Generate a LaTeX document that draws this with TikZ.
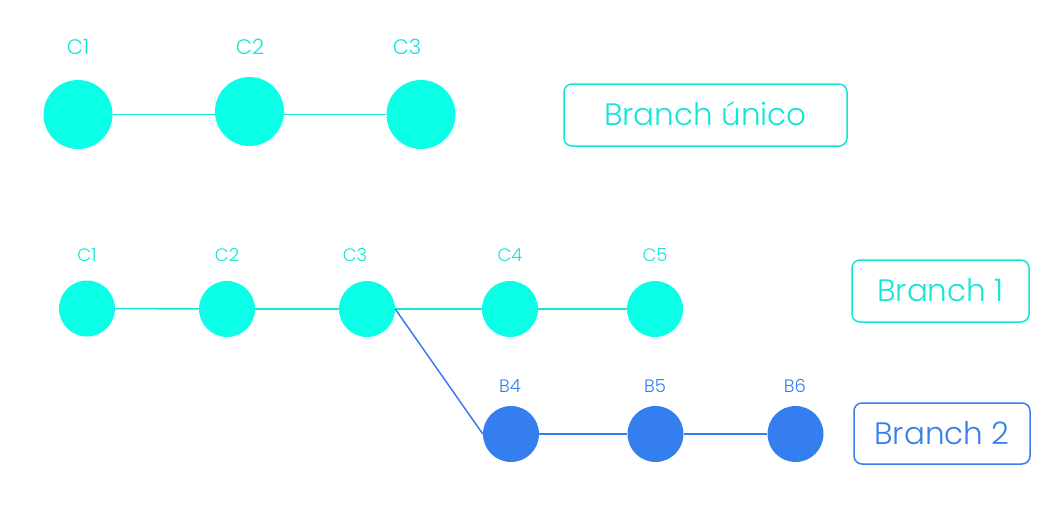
\documentclass[tikz,border=0pt]{standalone}
\usepackage{fontspec}
\setmainfont{Poppins Light}
\definecolor{cy}{HTML}{0AFFE6}
\definecolor{cyline}{HTML}{12E6D6}
\definecolor{bl}{HTML}{347EF0}
\begin{document}
\begin{tikzpicture}[x=1pt,y=-1pt,
  bigdot/.style={circle,fill=cy,inner sep=0,minimum size=69pt},
  middot/.style={circle,fill=cy,inner sep=0,minimum size=56pt},
  bludot/.style={circle,fill=bl,inner sep=0,minimum size=56pt},
  biglbl/.style={text=cyline,font=\fontsize{21}{24}\selectfont,inner sep=0},
  smlbl/.style={text=cyline,font=\fontsize{18}{21}\selectfont,inner sep=0},
  bllbl/.style={text=bl,font=\fontsize{18}{21}\selectfont,inner sep=0},
  cyedge/.style={draw=cyline,line width=1.8pt},
  bledge/.style={draw=bl,line width=1.8pt},
  tagbox/.style={draw,rounded corners=8pt,line width=1.5pt,inner sep=0,font=\fontsize{31}{36}\selectfont}
]
\useasboundingbox (0,0) rectangle (1058,514);
% top row
\node[bigdot] (t1) at (78,114.5) {};
\node[bigdot] (t2) at (249.5,111.5) {};
\node[bigdot] (t3) at (421,114.5) {};
\node[biglbl] (lt1) at (78,47) {C1};
\node[biglbl] (lt2) at (250,47) {C2};
\node[biglbl] (lt3) at (407,47) {C3};
\draw[cyedge] (t1) -- (t2.west |- t1);
\draw[cyedge] (t2.east |- t3) -- (t3);
\node[tagbox,draw=cyline,text=cyline,minimum width=283pt,minimum height=62pt] (bu) at (705.5,115) {\raisebox{2pt}{Branch único}};
% middle row
\node[middot] (c1) at (87,308.5) {};
\node[middot] (c2) at (227,309) {};
\node[middot] (c3) at (367,309) {};
\node[middot] (c4) at (510,309) {};
\node[middot] (c5) at (655,309) {};
\node[smlbl] (l1) at (87,255) {C1};
\node[smlbl] (l2) at (227,255) {C2};
\node[smlbl] (l3) at (355,255) {C3};
\node[smlbl] (l4) at (510,255) {C4};
\node[smlbl] (l5) at (655,255) {C5};
\draw[cyedge,line width=1.5pt] (c1) -- (c2);
\draw[cyedge,line width=1.5pt] (c2) -- (c3);
\draw[cyedge,line width=1.5pt] (c3) -- (c4);
\draw[cyedge,line width=1.5pt] (c4) -- (c5);
% blue row
\node[bludot] (b4) at (511,434) {};
\node[bludot] (b5) at (655.5,434) {};
\node[bludot] (b6) at (795.5,434) {};
\node[bllbl] (lb4) at (510,386) {B4};
\node[bllbl] (lb5) at (655,386) {B5};
\node[bllbl] (lb6) at (795,386) {B6};
\draw[bledge,line width=1.5pt] (c3.east) -- (b4.west);
\draw[bledge] (b4) -- (b5);
\draw[bledge] (b5) -- (b6);
\node[tagbox,draw=cyline,text=cyline,minimum width=177pt,minimum height=62pt] (br1) at (940.5,291) {\raisebox{1pt}{Branch 1}};
\node[tagbox,draw=bl,text=bl,minimum width=176pt,minimum height=61pt] (br2) at (942,433.5) {\raisebox{1pt}{Branch 2}};
\end{tikzpicture}
\end{document}
